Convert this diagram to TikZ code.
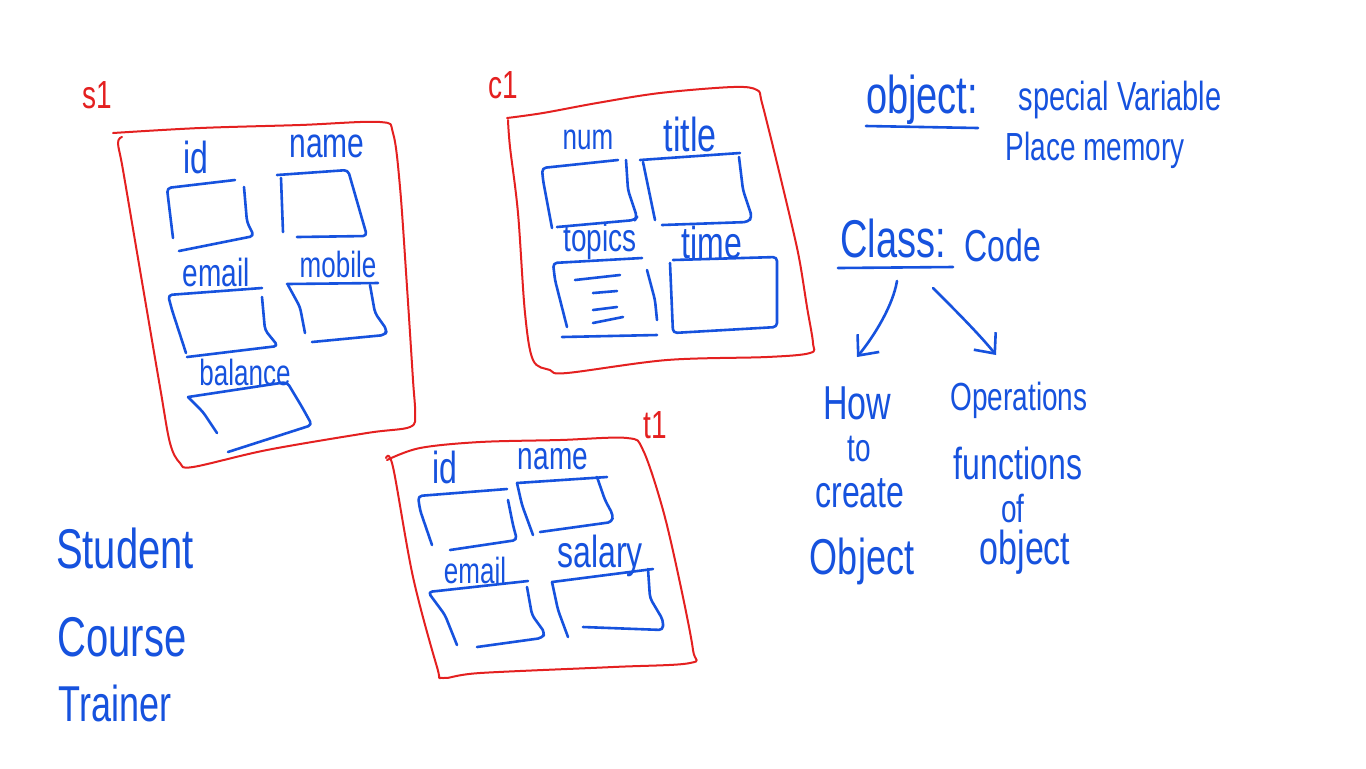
\documentclass[tikz,border=0pt]{standalone}
\usepackage{fontspec}
\usepackage{graphicx}
\setmainfont{Liberation Sans}
\usetikzlibrary{arrows.meta}
\definecolor{penblue}{RGB}{22,82,222}
\definecolor{penred}{RGB}{228,32,32}
\newcommand\hw[2]{\fontsize{#1}{#1}\selectfont\scalebox{1}[1.4]{#2}}
\tikzset{
  pen/.style={draw=penblue, line width=1.3pt, line cap=round, line join=round, rounded corners=2pt},
  rpen/.style={draw=penred, line width=1pt, line cap=round, line join=round},
  hand/.style={text=penblue, inner sep=0pt, anchor=center},
  rhand/.style={text=penred, inner sep=0pt, anchor=center},
  arr/.style={draw=penblue, line width=1.3pt, line cap=round, -{Straight Barb[length=8pt,width=14pt,line width=1.3pt]}}
}
\begin{document}
\begin{tikzpicture}[x=0.5pt,y=-0.5pt]
\fill[white] (0,0) rectangle (1366,768);
\useasboundingbox (0,0) rectangle (1366,768);

% ---------- containers ----------
\draw[rpen] plot[smooth,tension=0.55] coordinates {(113,133) (200,128) (300,125) (380,122) (393,133) (400,187) (407,287) (413,380) (415,413) (410,427) (367,433) (267,450) (193,467) (180,463) (170,443) (160,387) (140,270) (123,170) (118,143) (122,137)};
\draw[rpen] plot[smooth,tension=0.55] coordinates {(507,118) (543,113) (597,103) (660,93) (733,87) (757,90) (762,103) (777,163) (793,230) (800,263) (807,307) (813,343) (810,353) (767,357) (667,360) (567,373) (550,370) (533,360) (525,313) (518,213) (510,147) (508,120)};
\draw[rpen] plot[smooth,tension=0.55] coordinates {(387,460) (420,448) (480,442) (560,440) (627,438) (643,450) (663,510) (680,583) (693,650) (690,663) (613,667) (480,673) (443,678) (437,667) (413,577) (393,467) (386,458)};

\node[rhand] (s1lbl) at (97,95) {\hw{14}{s1}};
\node[rhand] (c1lbl) at (503,85) {\hw{14}{c1}};
\node[rhand] (t1lbl) at (655,425) {\hw{14}{t1}};

% ---------- s1 fields ----------
\node[hand] (s1id) at (196,157) {\hw{16}{id}};
\node[hand] (s1name) at (327,146) {\hw{15}{name}};
\node[hand] (s1email) at (216,272) {\hw{14}{email}};
\node[hand] (s1mobile) at (338,264) {\hw{13}{mobile}};
\node[hand] (s1balance) at (245,372) {\hw{13}{balance}};

\draw[pen] (235,180) -- (167,188) -- (168,197) -- (173,238);
\draw[pen] (244,187) -- (247,222) -- (254,236) -- (179,251);
\draw[pen] (277,175) -- (348,170) -- (367,236) -- (297,237);
\draw[pen] (281,178) -- (283,232);
\draw[pen] (262,288) -- (168,295) -- (172,310) -- (186,353);
\draw[pen] (262,297) -- (265,330) -- (278,346) -- (187,357);
\draw[pen] (287,284) -- (378,283);
\draw[pen] (288,285) -- (300,307) -- (305,333);
\draw[pen] (370,285) -- (375,313) -- (387,330) -- (385,335) -- (312,342);
\draw[pen] (188,397) -- (287,382) -- (302,407) -- (312,425) -- (228,452);
\draw[pen] (188,397) -- (203,412) -- (217,433);

% ---------- c1 fields ----------
\node[hand] (c1num) at (588,140) {\hw{13}{num}};
\node[hand] (c1title) at (690,134) {\hw{17}{title}};
\node[hand] (c1topics) at (600,241) {\hw{14}{topics}};
\node[hand] (c1time) at (712,242) {\hw{16}{time}};

\draw[pen] (618,160) -- (542,168) -- (543,180) -- (552,228);
\draw[pen] (626,160) -- (628,190) -- (637,217) -- (635,220) -- (557,227);
\draw[pen] (740,153) -- (640,160);
\draw[pen] (643,162) -- (655,220);
\draw[pen] (739,157) -- (743,190) -- (752,217) -- (748,222) -- (662,225);
\draw[pen] (642,258) -- (553,263) -- (555,280) -- (567,327);
\draw[pen] (647,270) -- (655,300) -- (657,320);
\draw[pen] (562,337) -- (657,335);
\draw[pen] (575,280) -- (620,275);
\draw[pen] (593,293) -- (617,291);
\draw[pen] (593,310) -- (617,307);
\draw[pen] (593,323) -- (623,317);
\draw[pen] (673,260) -- (777,257) -- (777,327) -- (673,333) -- (670,263);

% ---------- t1 fields ----------
\node[hand] (t1id) at (445,467) {\hw{16}{id}};
\node[hand] (t1name) at (553,459) {\hw{14}{name}};
\node[hand] (t1email) at (475,570) {\hw{13}{email}};
\node[hand] (t1salary) at (600,556) {\hw{16}{salary}};

\draw[pen] (507,489) -- (418,496) -- (420,510) -- (432,545);
\draw[pen] (508,500) -- (513,525) -- (517,540) -- (450,550);
\draw[pen] (517,483) -- (607,477);
\draw[pen] (517,483) -- (522,505) -- (533,535);
\draw[pen] (597,477) -- (605,500) -- (613,515) -- (612,522) -- (540,532);
\draw[pen] (528,581) -- (428,592) -- (445,615) -- (457,645);
\draw[pen] (527,587) -- (532,615) -- (545,633) -- (542,638) -- (477,647);
\draw[pen] (552,582) -- (653,569);
\draw[pen] (552,582) -- (558,610) -- (568,637);
\draw[pen] (648,569) -- (650,598) -- (663,620) -- (663,630) -- (583,627);

% ---------- right side ----------
\node[hand] (obj) at (922,100) {\hw{19}{object:}};
\draw[pen] (866,126) -- (978,128);
\node[hand] (objdef1) at (1120,100) {\hw{14.5}{special Variable}};
\node[hand] (objdef2) at (1095,150) {\hw{14}{Place memory}};

\node[hand] (cls) at (893,238) {\hw{19}{Class:}};
\draw[pen] (838,268) -- (953,267);
\node[hand] (code) at (1003,245) {\hw{16}{Code}};

\node[hand] (how) at (857,403) {\hw{17}{How}};
\node[hand] (howto) at (859,449) {\hw{14}{to}};
\node[hand] (howcreate) at (860,493) {\hw{16}{create}};
\node[hand] (howobj) at (862,561) {\hw{18}{Object}};

\node[hand] (ops) at (1019,400) {\hw{14}{Operations}};
\node[hand] (opsfn) at (1018,463) {\hw{16}{functions}};
\node[hand] (opsof) at (1013,508) {\hw{14}{of}};
\node[hand] (opsobj) at (1025,552) {\hw{17}{object}};

\coordinate (a1s) at (897,281);
\coordinate (a1e) at (857,357);
\coordinate (a2s) at (933,288);
\coordinate (a2e) at (996,355);
\draw[arr] (a1s) .. controls (893,305) and (875,335) .. (a1e);
\draw[arr] (a2s) .. controls (955,310) and (980,335) .. (a2e);

% ---------- bottom left ----------
\node[hand] (student) at (125,548) {\hw{20}{Student}};
\node[hand] (course) at (122,637) {\hw{20}{Course}};
\node[hand] (trainer) at (115,703) {\hw{18}{Trainer}};
\end{tikzpicture}
\end{document}
